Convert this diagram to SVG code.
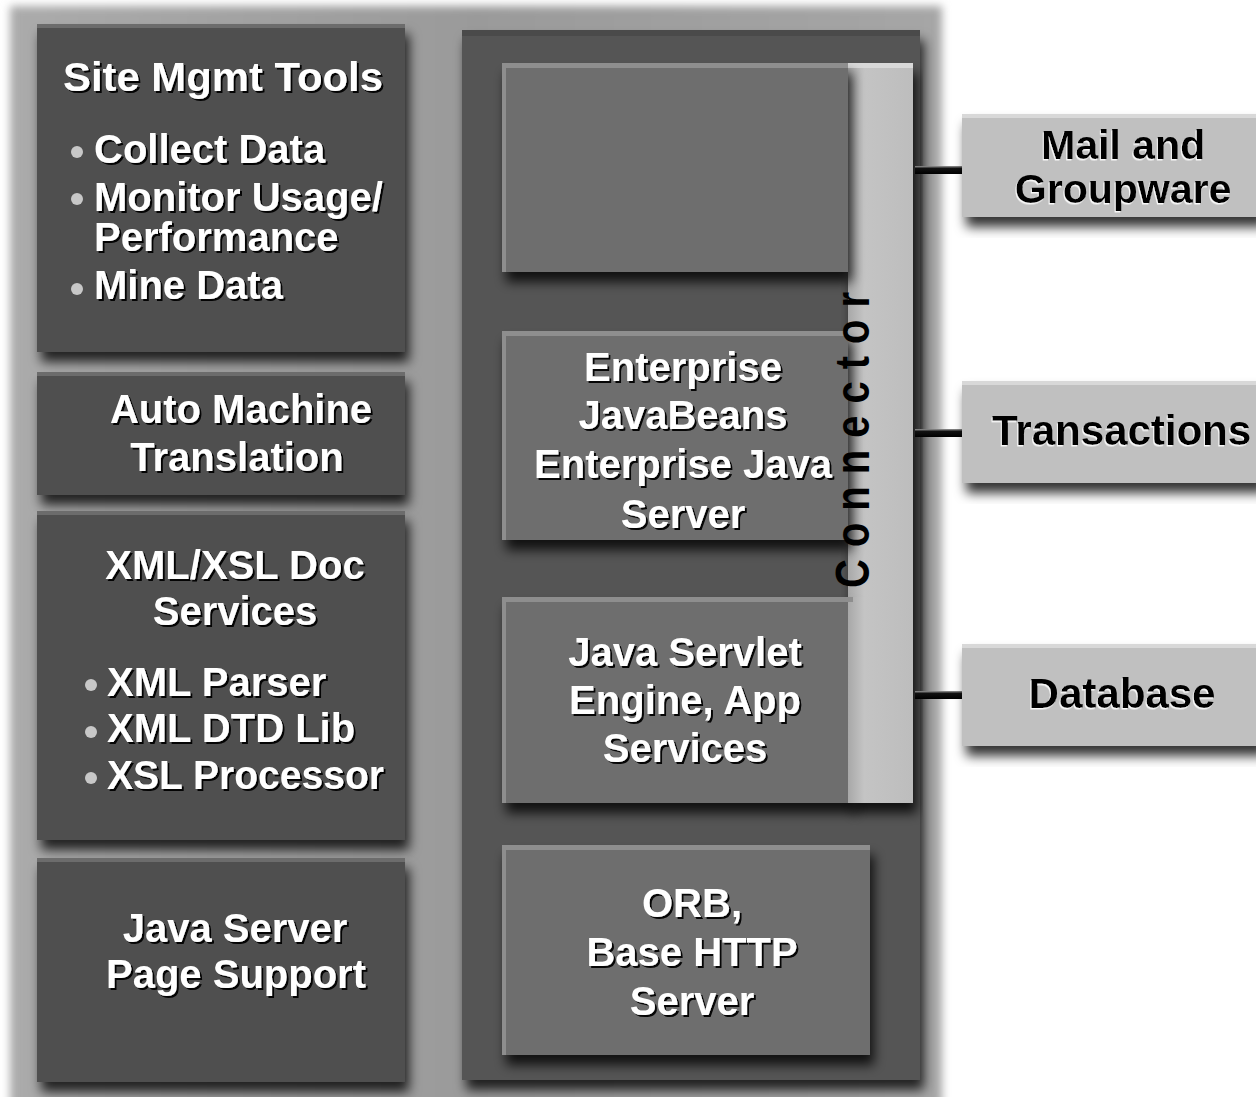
<svg xmlns="http://www.w3.org/2000/svg" width="1256" height="1097" viewBox="0 0 1256 1097">
<defs>
  <filter id="blur" x="-5%" y="-5%" width="110%" height="110%">
    <feGaussianBlur stdDeviation="4"/>
  </filter>
  <filter id="boxShadow" x="-10%" y="-10%" width="125%" height="130%">
    <feDropShadow dx="4" dy="10" stdDeviation="6" flood-color="#000" flood-opacity="0.8"/>
  </filter>
  <filter id="txtShadow" x="-5%" y="-20%" width="110%" height="140%">
    <feDropShadow dx="2" dy="2" stdDeviation="0.6" flood-color="#000" flood-opacity="0.95"/>
  </filter>
  <filter id="txtShadowLight" x="-5%" y="-20%" width="110%" height="140%">
    <feDropShadow dx="-1" dy="1.5" stdDeviation="0.4" flood-color="#fff" flood-opacity="0.9"/>
  </filter>
  <linearGradient id="outerGrad" x1="0" y1="0" x2="1" y2="0">
    <stop offset="0" stop-color="#ababab"/>
    <stop offset="0.5" stop-color="#9a9a9a"/>
    <stop offset="1" stop-color="#a6a6a6"/>
  </linearGradient>
  <linearGradient id="barGrad" x1="0" y1="0" x2="1" y2="0">
    <stop offset="0" stop-color="#a8a8a8"/>
    <stop offset="0.25" stop-color="#c4c4c4"/>
    <stop offset="1" stop-color="#bdbdbd"/>
  </linearGradient>
  <linearGradient id="linkGrad" x1="0" y1="0" x2="0" y2="1">
    <stop offset="0" stop-color="#9a9a9a"/>
    <stop offset="0.3" stop-color="#111"/>
    <stop offset="1" stop-color="#000"/>
  </linearGradient>
</defs>
<style>
  .dark { fill: #505050; }
  .inner { fill: #6e6e6e; }
  .ext { fill: #c0c0c0; }
  .hlDark { fill: #6c6c6c; }
  .hlInner { fill: #8e8e8e; }
  .hlExt { fill: #d8d8d8; }
  .wt { font-family: "Liberation Sans", Arial, sans-serif; font-weight: bold; font-size: 40px; fill: #ffffff; filter: url(#txtShadow); }
  .bk { font-family: "Liberation Sans", Arial, sans-serif; font-weight: bold; font-size: 42px; fill: #000000; filter: url(#txtShadowLight); }
  .mid { text-anchor: middle; }
  .bullet { fill: #c8c8c8; }
  .conn { font-family: "Liberation Sans", Arial, sans-serif; font-weight: 900; font-size: 40px; fill: #000; letter-spacing: 12px; }
</style>

<!-- background panel -->
<rect x="10" y="6" width="932" height="1110" fill="url(#outerGrad)" filter="url(#blur)"/>

<!-- right frame -->
<g id="frame">
  <rect x="462" y="30" width="458" height="1050" fill="#555555" filter="url(#boxShadow)"/>
  <rect x="462" y="30" width="458" height="6" fill="#4a4a4a"/>
</g>

<!-- left column -->
<g id="site-mgmt">
  <rect class="dark" x="37" y="24" width="368" height="328" filter="url(#boxShadow)"/>
  <rect class="hlDark" x="37" y="24" width="368" height="4"/>
  <text class="wt" x="63" y="91" textLength="320" lengthAdjust="spacingAndGlyphs">Site Mgmt Tools</text>
  <circle class="bullet" cx="77" cy="152" r="6"/>
  <text class="wt" x="94" y="163">Collect Data</text>
  <circle class="bullet" cx="77" cy="199" r="6"/>
  <text class="wt" x="94" y="211">Monitor Usage/</text>
  <text class="wt" x="94" y="251">Performance</text>
  <circle class="bullet" cx="77" cy="289" r="6"/>
  <text class="wt" x="94" y="299">Mine Data</text>
</g>

<g id="auto-translation">
  <rect class="dark" x="37" y="372" width="368" height="123" filter="url(#boxShadow)"/>
  <rect class="hlDark" x="37" y="372" width="368" height="4"/>
  <text class="wt mid" x="241" y="423">Auto Machine</text>
  <text class="wt mid" x="237" y="471">Translation</text>
</g>

<g id="xml-xsl">
  <rect class="dark" x="37" y="511" width="368" height="329" filter="url(#boxShadow)"/>
  <rect class="hlDark" x="37" y="511" width="368" height="4"/>
  <text class="wt mid" x="235" y="579">XML/XSL Doc</text>
  <text class="wt mid" x="235" y="625">Services</text>
  <circle class="bullet" cx="91" cy="685" r="6"/>
  <text class="wt" x="107" y="696">XML Parser</text>
  <circle class="bullet" cx="91" cy="732" r="6"/>
  <text class="wt" x="107" y="742">XML DTD Lib</text>
  <circle class="bullet" cx="91" cy="778" r="6"/>
  <text class="wt" x="107" y="789" textLength="277" lengthAdjust="spacingAndGlyphs">XSL Processor</text>
</g>

<g id="jsp-support">
  <rect class="dark" x="37" y="858" width="368" height="224" filter="url(#boxShadow)"/>
  <rect class="hlDark" x="37" y="858" width="368" height="4"/>
  <text class="wt mid" x="235" y="942">Java Server</text>
  <text class="wt mid" x="236" y="988">Page Support</text>
</g>

<!-- connector bar -->
<g id="connector-bar">
  <rect x="848" y="63" width="65" height="740" fill="url(#barGrad)" filter="url(#boxShadow)"/>
  <rect x="848" y="63" width="65" height="5" class="hlExt"/>
</g>

<!-- right column inner boxes -->
<g id="empty-box">
  <rect class="inner" x="502" y="63" width="346" height="209" filter="url(#boxShadow)"/>
  <rect class="hlInner" x="502" y="63" width="346" height="5"/>
  <rect class="hlInner" x="502" y="63" width="4" height="209"/>
</g>

<g id="ejb">
  <rect class="inner" x="502" y="331" width="346" height="209" filter="url(#boxShadow)"/>
  <rect class="hlInner" x="502" y="331" width="346" height="5"/>
  <rect class="hlInner" x="502" y="331" width="4" height="209"/>
  <text class="wt mid" x="683" y="381">Enterprise</text>
  <text class="wt mid" x="683" y="429">JavaBeans</text>
  <text class="wt mid" x="683" y="478">Enterprise Java</text>
  <text class="wt mid" x="683" y="528">Server</text>
</g>

<g id="servlet">
  <rect class="inner" x="502" y="597" width="351" height="206" filter="url(#boxShadow)"/>
  <rect x="848" y="597" width="65" height="206" fill="url(#barGrad)"/>
  <rect class="hlInner" x="502" y="597" width="351" height="5"/>
  <rect class="hlInner" x="502" y="597" width="4" height="206"/>
  <text class="wt mid" x="685" y="666">Java Servlet</text>
  <text class="wt mid" x="685" y="714">Engine, App</text>
  <text class="wt mid" x="685" y="762">Services</text>
</g>

<g id="orb">
  <rect class="inner" x="502" y="845" width="368" height="210" filter="url(#boxShadow)"/>
  <rect class="hlInner" x="502" y="845" width="368" height="5"/>
  <rect class="hlInner" x="502" y="845" width="4" height="210"/>
  <text class="wt mid" x="692" y="917">ORB,</text>
  <text class="wt mid" x="692" y="966">Base HTTP</text>
  <text class="wt mid" x="692" y="1015">Server</text>
</g>

<!-- vertical Connector label -->
<g id="connector-label">
  <text class="conn" transform="translate(869,588) rotate(-90) scale(1,1.2)" x="0" y="0">Connector</text>
</g>

<!-- connectors -->
<g id="connectors">
  <rect x="915" y="166" width="47" height="8" fill="url(#linkGrad)"/>
  <rect x="915" y="429" width="47" height="8" fill="url(#linkGrad)"/>
  <rect x="915" y="691" width="47" height="8" fill="url(#linkGrad)"/>
</g>

<!-- external boxes -->
<g id="mail">
  <rect class="ext" x="962" y="114" width="300" height="103" filter="url(#boxShadow)"/>
  <rect class="hlExt" x="962" y="114" width="300" height="4"/>
  <text class="bk mid" x="1123" y="159" style="font-size:41px">Mail and</text>
  <text class="bk mid" x="1123" y="203" style="font-size:41px">Groupware</text>
</g>

<g id="transactions">
  <rect class="ext" x="962" y="381" width="300" height="102" filter="url(#boxShadow)"/>
  <rect class="hlExt" x="962" y="381" width="300" height="4"/>
  <text class="bk" x="992" y="445">Transactions</text>
</g>

<g id="database">
  <rect class="ext" x="962" y="644" width="300" height="102" filter="url(#boxShadow)"/>
  <rect class="hlExt" x="962" y="644" width="300" height="4"/>
  <text class="bk mid" x="1122" y="708">Database</text>
</g>
</svg>
